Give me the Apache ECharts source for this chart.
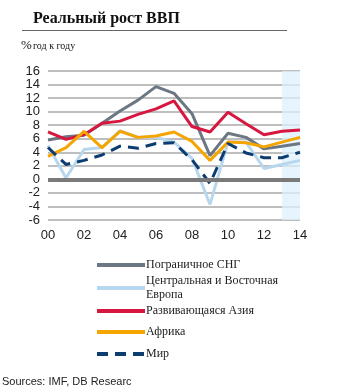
<!DOCTYPE html>
<html><head><meta charset="utf-8">
<script src="https://cdn.jsdelivr.net/npm/echarts@6/dist/echarts.min.js"></script>
<style>html,body{margin:0;padding:0;background:#fff}#c{width:363px;height:391px}</style>
</head><body><div id="c"></div>
<script>
const years = [2000,2001,2002,2003,2004,2005,2006,2007,2008,2009,2010,2011,2012,2013,2014];
const names = ['Пограничное СНГ','Центральная и Восточная\nЕвропа','Развивающаяся Азия','Африка','Мир'];
const cis    = [5.8,6.3,6.5,8.3,10.1,11.7,13.7,12.7,9.7,3.5,6.8,6.2,4.5,4.9,5.3];
const cee    = [5.0,0.2,4.4,4.7,7.2,6.2,6.2,5.5,3.1,-3.7,5.5,5.5,1.6,2.2,2.8];
const asia   = [7.0,5.9,6.6,8.3,8.6,9.6,10.4,11.6,7.8,7.0,9.9,8.2,6.6,7.1,7.3];
const africa = [3.4,4.7,7.1,4.7,7.1,6.2,6.4,7.0,5.6,2.8,5.5,5.4,4.8,5.5,6.2];
const world  = [4.7,2.2,2.8,3.6,4.9,4.6,5.3,5.4,2.9,-0.6,5.3,3.9,3.2,3.2,4.0];
const colors = ['#6b7884','#b7d7ef','#d7173f','#f5a500','#0d3d70'];
const seriesVals = [cis, cee, asia, africa, world];
const forecastStart = 2013;

const chart = echarts.init(document.getElementById('c'));
const series = seriesVals.map((vals, i) => ({
  name: names[i], type: 'line', symbol: 'none', z: 3 + (i === 1 ? 0 : 1),
  data: years.map((y, k) => [y, vals[k]]),
  lineStyle: { color: colors[i], width: 3, type: i === 4 ? [11, 7] : 'solid', cap: 'butt' },
  itemStyle: { color: colors[i] }
}));
series.push({
  type: 'line', data: [], silent: true, z: 10,
  markLine: { silent: true, symbol: 'none', label: { show: false },
    lineStyle: { color: '#7a7a7a', width: 4, type: 'solid' },
    data: [[{ coord: [2000, 0] }, { coord: [2014, 0] }]] },
  markArea: { silent: true, itemStyle: { color: 'rgba(222,240,252,0.75)' },
    data: [[{ xAxis: forecastStart }, { xAxis: 2014 }]] }
});
const legendTops = [258, 274, 304, 325, 347];
const legends = names.map((n, i) => ({
  data: [n], left: 95, top: legendTops[i], orient: 'vertical',
  itemWidth: 48, itemHeight: 14, itemGap: 0,
  itemStyle: { opacity: 0 },
  lineStyle: { width: 4 },
  textStyle: { fontFamily: 'Liberation Serif', fontSize: 12, color: '#222', lineHeight: 14, padding: [0,0,0,-4] },
  padding: 0, selectedMode: false
}));
chart.setOption({
  animation: false,
  title: { text: 'Реальный рост ВВП', left: 28, top: 6,
    textStyle: { fontFamily: 'Liberation Serif', fontWeight: 'bold', fontSize: 16, color: '#111' } },
  graphic: [
    { type: 'line', shape: { x1: 22, y1: 30.5, x2: 287, y2: 30.5 }, style: { stroke: '#666', lineWidth: 1 } },
    { type: 'text', left: 21, top: 39, style: { text: '%', font: '13px "Liberation Serif"', fill: '#111' } },
    { type: 'text', left: 33, top: 41, style: { text: 'год к году', font: '10px "Liberation Serif"', fill: '#111' } },
    { type: 'text', left: 2, top: 376, style: { text: 'Sources: IMF, DB Researc', font: '11px "Liberation Sans"', fill: '#222' } }
  ],
  legend: legends,
  grid: { left: 48, right: 63, top: 71, bottom: 171 },
  xAxis: { type: 'value', min: 2000, max: 2014, interval: 2,
    axisLine: { show: false }, axisTick: { show: false }, splitLine: { show: false },
    axisLabel: { margin: 9, fontFamily: 'Liberation Sans', fontSize: 13, color: '#222',
      formatter: v => String(v % 100).padStart(2, '0') } },
  yAxis: { type: 'value', min: -6, max: 16, interval: 2,
    axisLine: { show: false }, axisTick: { show: false },
    splitLine: { lineStyle: { color: '#a8a8a8', width: 1.5 } },
    axisLabel: { margin: 8, fontFamily: 'Liberation Sans', fontSize: 13, color: '#222' } },
  series
});
</script></body></html>
